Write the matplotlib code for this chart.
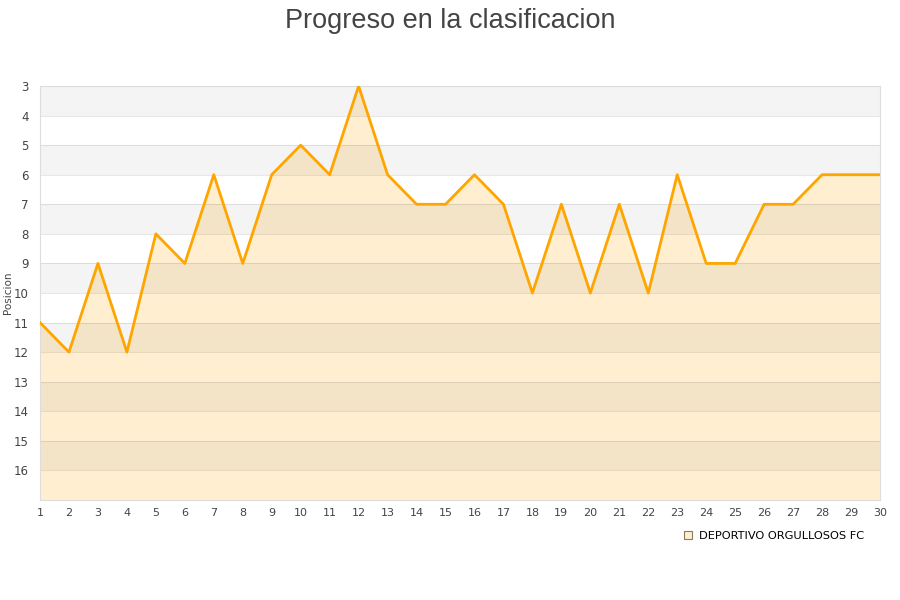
import matplotlib
matplotlib.use("Agg")
import matplotlib.pyplot as plt
from matplotlib.lines import Line2D

plt.rcParams['font.family'] = ['DejaVu Sans']

jornadas = list(range(1, 31))
posiciones = [11, 12, 9, 12, 8, 9, 6, 9, 6, 5, 6, 3, 6, 7, 7, 6, 7, 10, 7, 10,
              7, 10, 6, 9, 9, 7, 7, 6, 6, 6]
y_ticks = list(range(3, 17))
equipo = "DEPORTIVO ORGULLOSOS FC"
titulo = "Progreso en la clasificacion"


def main():
    fig = plt.figure(figsize=(9, 6), dpi=100)
    ax = fig.add_axes([40 / 900, 100 / 600, 840 / 900, 414 / 600])

    y_min, y_max = 3, 17
    # fill under line (opaque beige), then grey bands on top with alpha
    ax.fill_between(jornadas, posiciones, y_max, color='#FFEFD0', zorder=1, linewidth=0)
    for y in range(y_min, y_max, 2):
        ax.axhspan(y, y + 1, color='black', alpha=0.045, linewidth=0, zorder=2)
    for y in range(y_min + 1, y_max):
        ax.axhline(y, color='black', alpha=0.09, linewidth=0.8, zorder=2)
    ax.plot(jornadas, posiciones, color='#FFA500', linewidth=2, zorder=3)

    ax.set_xlim(1, 30)
    ax.set_ylim(y_max, y_min)
    ax.set_xticks(jornadas)
    ax.set_yticks(y_ticks)
    ax.tick_params(length=0, colors='#444444', labelsize=8)
    ax.tick_params(axis='y', labelsize=8.5, pad=8)
    ax.tick_params(axis='x', pad=6)
    for s in ax.spines.values():
        s.set_color('#DDDDDD')
    fig.text(8 / 900, 1 - 293 / 600, "Posicion", rotation=90, ha='center',
             va='center', fontsize=7.5, color='#444444')

    fig.text(0.5, 0.987, titulo, ha='center', va='top', fontsize=19.5,
             color='#444444', family='Liberation Sans')

    handle = Line2D([], [], marker='s', linestyle='none', markersize=6,
                    markerfacecolor='#FFEFD0', markeredgecolor='#8A7A60',
                    markeredgewidth=0.8)
    fig.legend([handle], [equipo], loc='center right', bbox_to_anchor=(0.972, 0.107),
               frameon=False, fontsize=8.2, handlelength=1, handletextpad=0.5)

    fig.savefig("out.png", dpi=100)


if __name__ == '__main__':
    main()
